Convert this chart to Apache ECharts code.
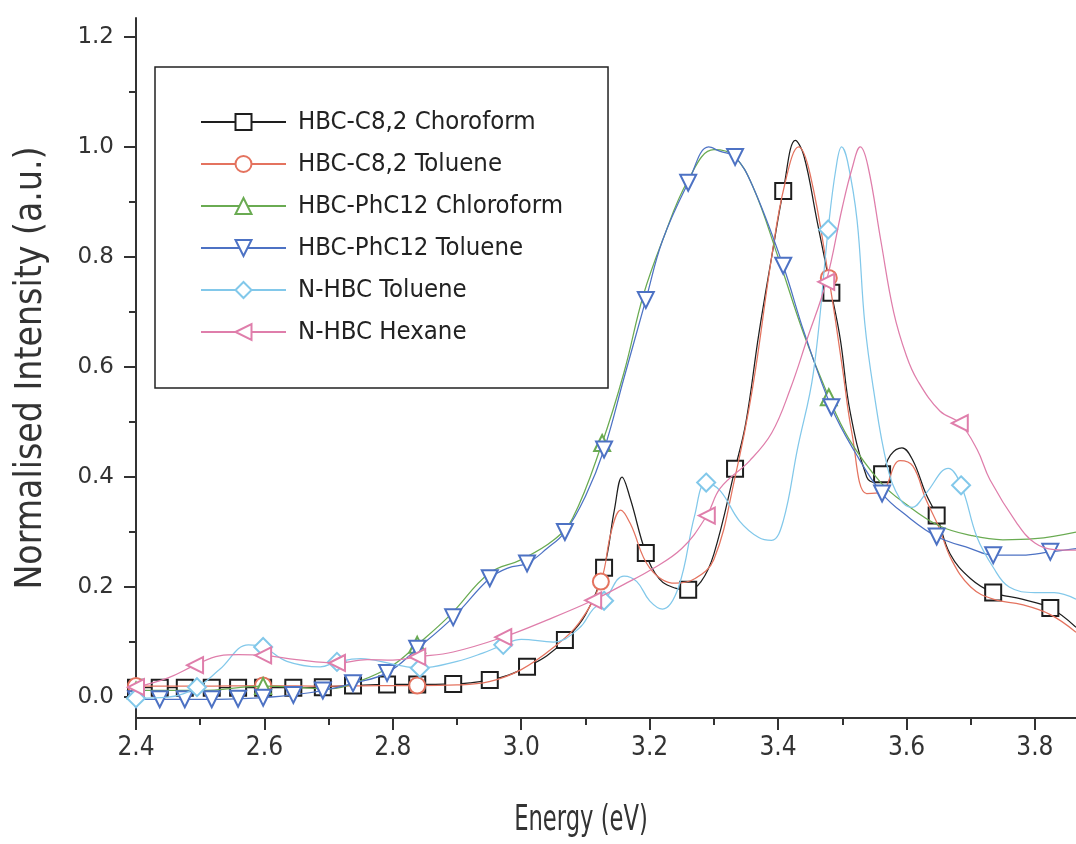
<!DOCTYPE html>
<html>
<head>
<meta charset="utf-8">
<script src="https://cdn.jsdelivr.net/npm/echarts@6/dist/echarts.min.js"></script>
<style>
html,body{margin:0;padding:0;background:#fff;}
#chart{width:1076px;height:844px;}
</style>
</head>
<body>
<div id="chart"></div>
<script>
// ---- data ----
const seriesNames = ['HBC-C8,2 Choroform','HBC-C8,2 Toluene','HBC-PhC12 Chloroform','HBC-PhC12 Toluene','N-HBC Toluene','N-HBC Hexane'];
const xTitle = 'Energy (eV)';
const yTitle = 'Normalised Intensity (a.u.)';
const xTicks = [2.4,2.6,2.8,3.0,3.2,3.4,3.6,3.8];
const xMinorTicks = [2.5,2.7,2.9,3.1,3.3,3.5,3.7];
const yTicks = [0,0.2,0.4,0.6,0.8,1.0,1.2];
const yMinorTicks = [0.1,0.3,0.5,0.7,0.9,1.1];

// HBC-C8,2 Choroform
const c82ChlCurve = [[2.70,0.019],[2.92,0.026],[2.98,0.04],[3.04,0.075],[3.10,0.15],[3.145,0.34],[3.157,0.40],[3.17,0.36],[3.215,0.215],[3.24,0.198],[3.28,0.21],[3.30,0.26],[3.35,0.50],[3.37,0.66],[3.39,0.80],[3.427,1.012],[3.44,0.985],[3.46,0.87],[3.497,0.65],[3.512,0.52],[3.538,0.40],[3.551,0.39],[3.575,0.44],[3.593,0.453],[3.61,0.43],[3.63,0.37],[3.668,0.26],[3.70,0.215],[3.78,0.178],[3.864,0.127]];
const c82ChlMarks = [[2.40,0.017],[2.437,0.017],[2.476,0.017],[2.518,0.017],[2.559,0.017],[2.598,0.017],[2.645,0.017],[2.691,0.018],[2.738,0.021],[2.791,0.023],[2.838,0.023],[2.894,0.024],[2.951,0.031],[3.009,0.055],[3.068,0.104],[3.129,0.235],[3.194,0.262],[3.26,0.195],[3.333,0.415],[3.408,0.92],[3.483,0.735],[3.562,0.405],[3.647,0.33],[3.735,0.19],[3.824,0.162]];

// HBC-C8,2 Toluene
const c82TolCurve = [[2.50,0.02],[2.70,0.02],[2.78,0.021],[2.90,0.022],[2.95,0.028],[3.00,0.05],[3.05,0.09],[3.09,0.135],[3.14,0.30],[3.155,0.34],[3.17,0.315],[3.20,0.235],[3.24,0.207],[3.27,0.215],[3.30,0.25],[3.333,0.40],[3.36,0.56],[3.39,0.80],[3.41,0.93],[3.432,1.0],[3.45,0.95],[3.50,0.60],[3.515,0.48],[3.538,0.37],[3.56,0.372],[3.59,0.43],[3.61,0.42],[3.63,0.36],[3.65,0.31],[3.67,0.25],[3.70,0.20],[3.735,0.178],[3.78,0.168],[3.824,0.15],[3.864,0.118]];
const c82TolMarks = [[2.40,0.02],[2.598,0.021],[2.838,0.021],[3.124,0.21],[3.479,0.762]];

// HBC-PhC12 Chloroform
const phChlCurve = [[2.50,0.012],[2.70,0.015],[2.75,0.03],[2.80,0.058],[2.89,0.15],[2.95,0.225],[3.00,0.25],[3.05,0.285],[3.08,0.325],[3.16,0.59],[3.19,0.73],[3.22,0.83],[3.26,0.94],[3.30,0.995],[3.33,0.985],[3.36,0.93],[3.40,0.80],[3.44,0.66],[3.51,0.47],[3.56,0.39],[3.60,0.35],[3.65,0.312],[3.70,0.294],[3.75,0.286],[3.80,0.288],[3.864,0.30]];
const phChlMarks = [[2.40,0.012],[2.598,0.02],[2.838,0.095],[3.126,0.462],[3.479,0.545]];

// HBC-PhC12 Toluene
const phTolCurve = [[2.98,0.235],[3.04,0.27],[3.10,0.365],[3.16,0.58],[3.22,0.83],[3.292,1.0],[3.31,0.992],[3.36,0.93],[3.44,0.665],[3.52,0.445],[3.60,0.33],[3.70,0.27],[3.78,0.258],[3.864,0.27]];
const phTolMarks = [[2.40,-0.004],[2.437,-0.004],[2.476,-0.004],[2.518,-0.004],[2.559,-0.003],[2.598,-0.001],[2.645,0.004],[2.691,0.012],[2.738,0.025],[2.791,0.044],[2.838,0.088],[2.894,0.145],[2.951,0.216],[3.009,0.243],[3.068,0.30],[3.129,0.45],[3.194,0.722],[3.26,0.935],[3.333,0.982],[3.408,0.784],[3.483,0.527],[3.562,0.37],[3.647,0.292],[3.735,0.258],[3.824,0.264]];

// N-HBC Toluene
const nTolCurve = [[2.45,0.0],[2.53,0.05],[2.575,0.095],[2.635,0.065],[2.687,0.055],[2.75,0.07],[2.80,0.06],[2.90,0.065],[2.94,0.08],[3.00,0.105],[3.05,0.10],[3.09,0.125],[3.112,0.16],[3.16,0.22],[3.18,0.21],[3.20,0.175],[3.22,0.16],[3.245,0.20],[3.27,0.33],[3.31,0.375],[3.34,0.32],[3.37,0.29],[3.39,0.285],[3.408,0.32],[3.43,0.45],[3.455,0.59],[3.49,0.96],[3.499,1.0],[3.508,0.975],[3.523,0.867],[3.535,0.68],[3.548,0.564],[3.57,0.42],[3.59,0.36],[3.609,0.345],[3.63,0.37],[3.665,0.416],[3.71,0.29],[3.735,0.236],[3.76,0.20],[3.80,0.19],[3.83,0.19],[3.864,0.178]];
const nTolMarks = [[2.40,-0.002],[2.495,0.018],[2.598,0.091],[2.713,0.064],[2.842,0.053],[2.972,0.095],[3.129,0.175],[3.288,0.39],[3.478,0.85],[3.685,0.385]];

// N-HBC Hexane
const nHexCurve = [[2.45,0.035],[2.53,0.075],[2.56,0.077],[2.65,0.068],[2.76,0.068],[2.80,0.067],[2.894,0.082],[3.04,0.14],[3.16,0.205],[3.20,0.23],[3.25,0.27],[3.31,0.38],[3.356,0.43],[3.39,0.48],[3.419,0.56],[3.445,0.65],[3.50,0.89],[3.515,0.96],[3.528,1.0],[3.54,0.965],[3.56,0.83],[3.58,0.70],[3.60,0.62],[3.617,0.576],[3.652,0.52],[3.71,0.45],[3.73,0.395],[3.772,0.316],[3.80,0.28],[3.83,0.268],[3.864,0.267]];
const nHexMarks = [[2.40,0.018],[2.492,0.058],[2.598,0.076],[2.713,0.062],[2.838,0.073],[2.972,0.109],[3.112,0.176],[3.289,0.33],[3.475,0.755],[3.683,0.498]];

// ---- build ----
function build(curve, marks){
  const pts = curve.map(p => ({value: p, symbol: 'none'})).concat(marks.map(p => ({value: p})));
  pts.sort((a,b) => a.value[0] - b.value[0]);
  return pts;
}
const cond = "'DejaVu Sans Condensed','DejaVu Sans',sans-serif";
const styles = [
  {color:'#1e1e1e', symbol:'emptyRect', rot:0, curve:c82ChlCurve, marks:c82ChlMarks},
  {color:'#e4735f', symbol:'emptyCircle', rot:0, curve:c82TolCurve, marks:c82TolMarks},
  {color:'#6aab52', symbol:'emptyTriangle', rot:0, curve:phChlCurve, marks:phChlMarks},
  {color:'#4d72c4', symbol:'emptyTriangle', rot:180, curve:phTolCurve, marks:phTolMarks},
  {color:'#82c8ea', symbol:'emptyDiamond', rot:0, curve:nTolCurve, marks:nTolMarks},
  {color:'#df7eab', symbol:'emptyTriangle', rot:90, curve:nHexCurve, marks:nHexMarks}
];
const drawOrder = [5,4,2,3,1,0];
const series = drawOrder.map(i => {
  const s = styles[i];
  return {
    name: seriesNames[i], type: 'line', xAxisIndex: 0, yAxisIndex: 0,
    data: build(s.curve, s.marks),
    smooth: 0.4,
    symbol: s.symbol, symbolRotate: s.rot,
    symbolSize: s.symbol === 'emptyDiamond' ? 18 : 16,
    showSymbol: true, showAllSymbol: true,
    lineStyle: {color: s.color, width: 1.25},
    itemStyle: {color: s.color, borderColor: s.color, borderWidth: 1.3},
    emphasis: {disabled: true},
    animation: false, z: 2 + i
  };
});

const chart = echarts.init(document.getElementById('chart'), null, {renderer: 'canvas'});
chart.setOption({
  backgroundColor: '#ffffff',
  animation: false,
  grid: {left: 136, right: 0, top: 18, bottom: 126, containLabel: false},
  legend: {
    data: seriesNames, orient: 'vertical', left: 155, top: 67,
    padding: [42, 45, 43, 45], borderColor: '#222', borderWidth: 1.5,
    itemWidth: 85, itemHeight: 20, itemGap: 16, backgroundColor: '#fff',
    textStyle: {fontSize: 25.5, lineHeight: 26, fontFamily: cond, color: '#222', padding: [0,0,0,7]},
    selectedMode: false
  },
  graphic: [{
    type: 'text', x: 581, y: 821, scaleX: 0.7, z: 10,
    style: {text: xTitle, fontSize: 36, fontFamily: cond, fill: '#333', textAlign: 'center', textVerticalAlign: 'middle'}
  }],
  xAxis: [{
    type: 'value', min: 2.4, max: 3.864, position: 'bottom',
    axisLine: {show: true, onZero: false, lineStyle: {color: '#333', width: 2}},
    axisTick: {show: true, inside: false, length: 12, customValues: xTicks, lineStyle: {color: '#333', width: 2}},
    axisLabel: {customValues: xTicks, formatter: v => v.toFixed(1), fontSize: 26, color: '#333', margin: 17, fontFamily: cond},
    splitLine: {show: false}
  }, {
    type: 'value', min: 2.4, max: 3.864, position: 'bottom',
    axisLine: {show: false, onZero: false},
    axisTick: {show: true, inside: false, length: 7, customValues: xMinorTicks, lineStyle: {color: '#333', width: 2}},
    axisLabel: {show: false}, splitLine: {show: false}
  }],
  yAxis: [{
    type: 'value', min: -0.038, max: 1.2345, position: 'left',
    axisLine: {show: true, onZero: false, lineStyle: {color: '#333', width: 2}},
    axisTick: {show: true, inside: false, length: 12, customValues: yTicks, lineStyle: {color: '#333', width: 2}},
    axisLabel: {customValues: yTicks, formatter: v => v.toFixed(1), fontSize: 23, color: '#333', margin: 22, fontFamily: "'DejaVu Sans',sans-serif"},
    splitLine: {show: false},
    name: yTitle, nameLocation: 'middle', nameGap: 86, nameRotate: 90,
    nameTextStyle: {fontSize: 37, fontFamily: cond, color: '#333'}
  }, {
    type: 'value', min: -0.038, max: 1.2345, position: 'left',
    axisLine: {show: false, onZero: false},
    axisTick: {show: true, inside: false, length: 7, customValues: yMinorTicks, lineStyle: {color: '#333', width: 2}},
    axisLabel: {show: false}, splitLine: {show: false}
  }],
  series: series
});
</script>
</body>
</html>
